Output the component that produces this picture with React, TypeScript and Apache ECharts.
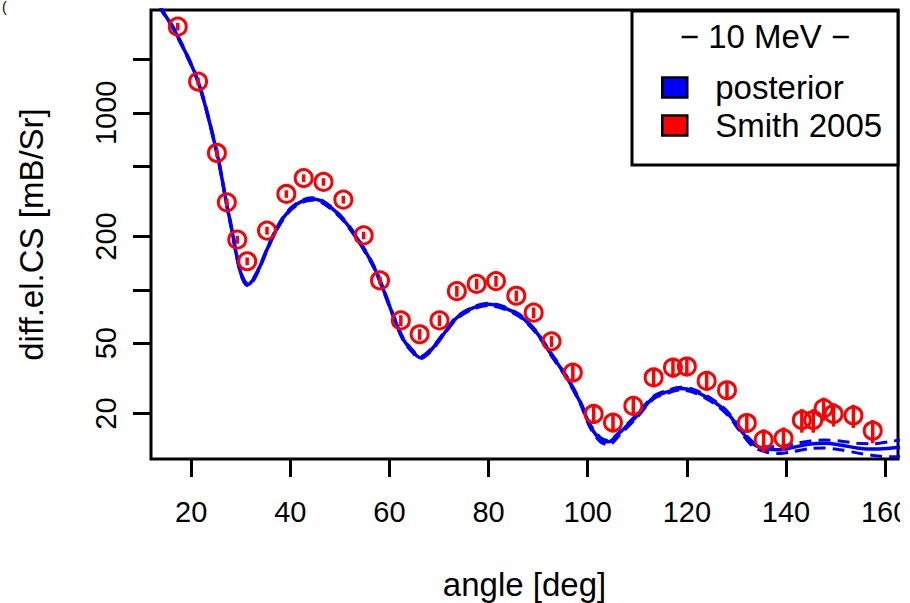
import React, { useEffect, useRef } from "react";
import * as echarts from "echarts";

// ---- data ----
const xTicks = [20, 40, 60, 80, 100, 120, 140, 160];
const yTicks = [20, 50, 100, 200, 500, 1000, 2000];
const yLabels = [20, 50, 200, 1000];

const curveAngles = [
  13.5, 14.1, 16.8, 21.4, 25.2, 27.1, 28.2, 29.2, 30.2, 31.4, 32.6, 33.9, 35.3, 37.0, 38.6, 40.3,
  42.3, 44.3, 46.4, 50.1, 53.4, 56.8, 58.8, 60.8, 62.8, 64.9, 66.2, 68.2, 70.9, 73.6, 77.0, 80.0,
  83.0, 86.4, 89.7, 92.4, 95.8, 98.5, 100.5, 102.5, 104.2, 106.5, 109.9, 113.3, 116.0, 118.7, 121.3,
  124.7, 128.1, 130.8, 133.4, 136.1, 138.8, 141.5, 144.9, 147.6, 150.9, 154.3, 157.6, 161.0, 163.0,
];
const posterior = [
  4100, 3807, 2873, 1501, 593, 311, 219, 155, 120, 107, 115, 136, 169, 214, 255, 290,
  316, 326, 316, 260, 197, 136, 100, 71, 52.5, 44.2, 41.4, 45.1, 56.1, 69.6, 79.3, 82.8,
  79.3, 71.1, 57.3, 44.2, 31.9, 23.1, 17.05, 14.35, 13.85, 15.65, 19.4, 24.7, 26.5, 27.7, 26.9,
  24.1, 20.3, 16.2, 13.45, 12.6, 12.5, 12.9, 13.45, 13.6, 13.3, 12.8, 12.6, 12.75, 12.9,
];
const posteriorUpper = [
  4160, 3860, 2910, 1520, 601, 316, 222, 157, 122, 109, 117, 138, 171, 217, 259, 294,
  320, 331, 321, 264, 200, 138, 101.5, 72.1, 53.3, 44.9, 42.0, 45.8, 56.9, 70.6, 80.5, 84.0,
  80.5, 72.2, 58.2, 44.9, 32.4, 23.5, 17.4, 14.7, 14.1, 15.9, 19.8, 25.1, 27.0, 28.2, 27.4,
  24.6, 20.7, 16.6, 13.8, 13.0, 13.0, 13.5, 14.0, 14.2, 14.0, 13.6, 13.5, 13.9, 14.2,
];
const posteriorLower = [
  4040, 3750, 2830, 1480, 584, 306, 216, 153, 118, 105.5, 113, 134, 166.5, 211, 251, 286,
  311, 321, 311, 256, 194, 134, 98.5, 70, 51.7, 43.5, 40.8, 44.4, 55.3, 68.6, 78.1, 81.6,
  78.1, 70.0, 56.4, 43.5, 31.4, 22.7, 16.6, 13.9, 13.3, 15.2, 19.0, 24.2, 26.0, 27.2, 26.4,
  23.6, 19.8, 15.8, 13.0, 12.1, 11.9, 12.2, 12.7, 12.8, 12.5, 12.0, 11.6, 11.4, 11.4,
];

const smithAngles = [
  17.3, 21.4, 25.2, 27.2, 29.3, 31.3, 35.3, 39.2, 42.7, 46.7, 50.7, 54.8, 58.1, 62.3, 66.1, 70.1,
  73.6, 77.6, 81.5, 85.6, 89.1, 92.7, 97.0, 101.2, 105.1, 109.2, 113.3, 117.2, 120.0, 124.0, 128.1,
  132.1, 135.5, 139.5, 143.2, 145.5, 147.6, 149.6, 153.6, 157.5,
];
const smithValues = [
  3066, 1501, 593, 312, 192, 145, 216, 348, 428, 407, 323, 203, 113, 67.2, 56.1, 67.2,
  98.3, 108, 112, 92.6, 74.3, 51.2, 34.1, 19.9, 17.8, 22.1, 32.0, 36.4, 36.9, 30.6, 27.1,
  17.7, 14.2, 14.5, 18.4, 18.4, 21.4, 19.9, 19.5, 16.0,
];
const smithErrors = [
  153, 75, 30, 16, 10, 7.3, 11, 17, 21, 20, 16, 10, 5.7, 4.7, 3.9, 4.7,
  6.9, 7.6, 7.8, 6.5, 5.2, 3.6, 3.8, 2.4, 2.1, 2.7, 3.8, 4.4, 4.4, 3.7, 3.3,
  2.1, 2.1, 2.2, 2.8, 2.8, 3.2, 3.0, 2.9, 2.4,
];

const FONT = "'Liberation Sans', Arial, Helvetica, sans-serif";

export default function App() {
  const ref = useRef<HTMLDivElement>(null);

  useEffect(() => {
    if (!ref.current) return;
    const chart = echarts.init(ref.current, null, { renderer: "svg" });

    const line = (vals: number[]) => curveAngles.map((a, i) => [a, vals[i]]);

    chart.setOption({
      animation: false,
      backgroundColor: "#ffffff",
      textStyle: { fontFamily: FONT },
      grid: {
        left: 151,
        right: 12,
        top: 10,
        bottom: 144,
        show: true,
        borderColor: "#000",
        borderWidth: 3,
        backgroundColor: "transparent",
        outerBoundsMode: "none",
      },
      xAxis: {
        type: "value",
        min: 11.9,
        max: 162.6,
        name: "angle [deg]",
        nameLocation: "middle",
        nameGap: 109,
        nameTextStyle: { fontSize: 33, color: "#000", fontFamily: FONT },
        axisLine: { show: false },
        axisTick: {
          show: true,
          length: 18,
          lineStyle: { color: "#000", width: 3 },
          customValues: xTicks,
        },
        axisLabel: {
          customValues: xTicks,
          fontSize: 29,
          color: "#000",
          fontFamily: FONT,
          margin: 38,
          formatter: (v: number) => String(v),
        },
        splitLine: { show: false },
      },
      yAxis: {
        type: "log",
        logBase: 10,
        min: 11.08,
        max: 3807,
        name: "diff.el.CS [mB/Sr]",
        nameLocation: "middle",
        nameGap: 103,
        nameRotate: 90,
        nameTextStyle: { fontSize: 33, color: "#000", fontFamily: FONT },
        axisLine: { show: false },
        axisTick: {
          show: true,
          length: 18,
          lineStyle: { color: "#000", width: 3 },
          customValues: yTicks,
        },
        axisLabel: {
          customValues: yLabels,
          rotate: 90,
          fontSize: 29,
          color: "#000",
          fontFamily: FONT,
          margin: 31,
          formatter: (v: number) => String(Math.round(v)),
        },
        splitLine: { show: false },
        minorTick: { show: false },
      },
      legend: {
        left: 661,
        top: 71,
        orient: "vertical",
        padding: 0,
        itemGap: 5,
        itemWidth: 25,
        itemHeight: 20,
        selectedMode: false,
        z: 10,
        textStyle: { fontSize: 33, color: "#000", fontFamily: FONT, padding: [0, 0, 0, 23] },
        data: [
          { name: "posterior", icon: "rect", itemStyle: { color: "#0000ff", borderColor: "#000", borderWidth: 2.5 } },
          { name: "Smith 2005", icon: "rect", itemStyle: { color: "#ff0000", borderColor: "#000", borderWidth: 2.5 } },
        ],
      },
      graphic: [
        {
          type: "rect",
          z: 5,
          shape: { x: 632, y: 11, width: 266, height: 154 },
          style: { fill: "#fff", stroke: "#000", lineWidth: 3 },
        },
        {
          type: "text",
          z: 6,
          x: 765,
          y: 36,
          style: {
            text: "\u2212 10 MeV \u2212",
            fontSize: 33,
            fontFamily: FONT,
            fill: "#000",
            align: "center",
            verticalAlign: "middle",
          },
        },
        {
          type: "text",
          z: 6,
          x: 2,
          y: 0,
          style: { text: "(", fontSize: 14, fontFamily: FONT, fill: "#000" },
        },
        {
          type: "rect",
          z: 100,
          shape: { x: 900, y: 0, width: 10, height: 603 },
          style: { fill: "#fff", stroke: "none" },
        },
      ],
      series: [
        {
          name: "posterior upper",
          type: "line",
          data: line(posteriorUpper),
          showSymbol: false,
          symbol: "none",
          smooth: 0.3,
          lineStyle: { color: "#0000ff", width: 3, type: [12, 7] },
          itemStyle: { color: "#0000ff" },
          z: 2,
        },
        {
          name: "posterior lower",
          type: "line",
          data: line(posteriorLower),
          showSymbol: false,
          symbol: "none",
          smooth: 0.3,
          lineStyle: { color: "#0000ff", width: 3, type: [12, 7] },
          itemStyle: { color: "#0000ff" },
          z: 2,
        },
        {
          name: "posterior",
          type: "line",
          data: line(posterior),
          showSymbol: false,
          symbol: "none",
          smooth: 0.3,
          lineStyle: { color: "#0000ff", width: 3.5 },
          itemStyle: { color: "#0000ff" },
          z: 3,
        },
        {
          name: "Smith 2005",
          type: "custom",
          itemStyle: { color: "#ff0000" },
          encode: { x: 0, y: 1 },
          data: smithAngles.map((a, i) => [a, smithValues[i], smithErrors[i]]),
          renderItem: (_params: any, api: any) => {
            const x = api.value(0);
            const y = api.value(1);
            const e = api.value(2);
            const c = api.coord([x, y]);
            const top = api.coord([x, y + e]);
            const bot = api.coord([x, y - e]);
            return {
              type: "group",
              children: [
                {
                  type: "line",
                  shape: { x1: c[0], y1: top[1], x2: c[0], y2: bot[1] },
                  style: { stroke: "#ff0000", lineWidth: 3.5 },
                },
                {
                  type: "circle",
                  shape: { cx: c[0], cy: c[1], r: 8.5 },
                  style: { fill: "none", stroke: "#ff0000", lineWidth: 3 },
                },
              ],
            };
          },
          z: 4,
        },
      ],
    });

    return () => chart.dispose();
  }, []);

  return (
    <div
      ref={ref}
      style={{ position: "fixed", left: 0, top: 0, width: 910, height: 603, background: "#fff" }}
    />
  );
}
